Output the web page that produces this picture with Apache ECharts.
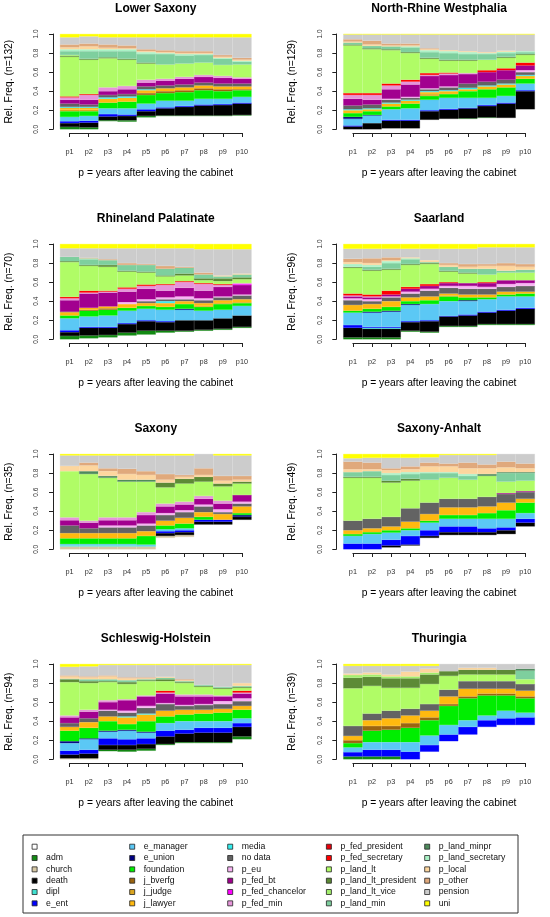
<!DOCTYPE html>
<html><head><meta charset="utf-8">
<script src="https://cdn.jsdelivr.net/npm/echarts@6/dist/echarts.min.js"></script>
<style>html,body{margin:0;padding:0;background:#fff}#c{width:550px;height:917px}</style>
</head><body><div id="c"></div>
<script>
const periods = ['p1','p2','p3','p4','p5','p6','p7','p8','p9','p10'];
const yTickLabels = ['0.0','0.2','0.4','0.6','0.8','1.0'];
const categoryNames = ['', 'adm', 'church', 'death', 'dipl', 'e_ent', 'e_manager', 'e_union', 'foundation',
  'j_bverfg', 'j_judge', 'j_lawyer', 'media', 'no data', 'p_eu', 'p_fed_bt', 'p_fed_chancelor', 'p_fed_min',
  'p_fed_president', 'p_fed_secretary', 'p_land_lt', 'p_land_lt_president', 'p_land_lt_vice', 'p_land_min',
  'p_land_minpr', 'p_land_secretary', 'p_local', 'p_other', 'pension', 'uni'];
const legendColumns = [
  ['', 'adm', 'church', 'death', 'dipl', 'e_ent'],
  ['e_manager', 'e_union', 'foundation', 'j_bverfg', 'j_judge', 'j_lawyer'],
  ['media', 'no data', 'p_eu', 'p_fed_bt', 'p_fed_chancelor', 'p_fed_min'],
  ['p_fed_president', 'p_fed_secretary', 'p_land_lt', 'p_land_lt_president', 'p_land_lt_vice', 'p_land_min'],
  ['p_land_minpr', 'p_land_secretary', 'p_local', 'p_other', 'pension', 'uni']
];
const panelTitles = ['Lower Saxony', 'North-Rhine Westphalia', 'Rhineland Palatinate', 'Saarland',
  'Saxony', 'Saxony-Anhalt', 'Schleswig-Holstein', 'Thuringia'];
const sampleSizes = [132, 129, 70, 96, 35, 49, 94, 39];

const lowerSaxony = {
  '': [0,0,0.085,0.08,0.125,0.14,0.14,0.14,0.14,0.145],
  adm: [0.025,0.02,0.01,0.015,0.015,0.005,0.005,0.005,0.005,0.005],
  death: [0.04,0.05,0.04,0.045,0.05,0.075,0.09,0.105,0.11,0.12],
  e_ent: [0.02,0.02,0.025,0.015,0.02,0.01,0.01,0.01,0.01,0.01],
  e_manager: [0.045,0.05,0.06,0.065,0.06,0.07,0.055,0.06,0.055,0.06],
  foundation: [0.06,0.05,0.06,0.07,0.09,0.08,0.09,0.09,0.08,0.07],
  j_bverfg: [0,0,0,0,0.02,0.02,0.02,0.02,0.02,0.01],
  j_judge: [0.015,0.015,0,0,0,0,0,0,0,0],
  j_lawyer: [0.02,0.02,0.04,0.04,0.03,0.03,0.03,0.03,0.03,0.03],
  media: [0.01,0.01,0.015,0.015,0.01,0,0,0,0,0],
  'no data': [0.035,0.025,0.025,0.025,0.03,0.03,0.03,0.03,0.03,0.03],
  p_fed_bt: [0.04,0.05,0.04,0.05,0.04,0.05,0.06,0.06,0.06,0.05],
  p_fed_min: [0.025,0.05,0.04,0.035,0.03,0.02,0.02,0.02,0.02,0.015],
  p_fed_secretary: [0.01,0.01,0,0,0,0,0,0,0,0],
  p_land_lt: [0.415,0.36,0.305,0.275,0.17,0.15,0.14,0.13,0.115,0.135],
  p_land_lt_president: [0.01,0.01,0.01,0.01,0.01,0,0,0,0,0],
  p_land_lt_vice: [0.01,0,0,0,0,0,0,0,0,0],
  p_land_min: [0.04,0.08,0.065,0.08,0.09,0.11,0.085,0.08,0.065,0.03],
  p_land_secretary: [0.02,0.02,0.02,0.02,0.02,0.01,0.015,0.01,0.01,0.01],
  p_local: [0.02,0.03,0.015,0.01,0.01,0.01,0.01,0.01,0.01,0.01],
  p_other: [0.03,0.03,0.035,0.03,0.02,0.02,0.02,0.02,0.02,0.02],
  pension: [0.075,0.075,0.075,0.085,0.125,0.135,0.145,0.145,0.185,0.215],
  uni: [0.035,0.025,0.035,0.035,0.035,0.035,0.035,0.035,0.035,0.035]
};
const northRhineWestphalia = {
  '': [0,0,0.01,0.01,0.10,0.11,0.11,0.12,0.12,0.21],
  adm: [0,0,0,0,0,0,0.005,0.005,0,0],
  death: [0.03,0.065,0.08,0.08,0.09,0.095,0.105,0.12,0.15,0.19],
  e_ent: [0.01,0,0.01,0.01,0.01,0.01,0.005,0.01,0.01,0.01],
  e_manager: [0.07,0.08,0.11,0.12,0.11,0.115,0.105,0.075,0.07,0.07],
  e_union: [0.02,0.005,0,0,0,0,0,0,0,0],
  foundation: [0.04,0.04,0.03,0.05,0.04,0.04,0.07,0.09,0.09,0.05],
  j_judge: [0,0,0,0,0.02,0,0,0,0,0],
  j_lawyer: [0.03,0.02,0.03,0.03,0.02,0.03,0.02,0.03,0.03,0.03],
  media: [0.01,0.01,0.01,0.01,0.01,0.01,0.015,0.01,0.01,0.01],
  'no data': [0.04,0.04,0.03,0.02,0.02,0.03,0.045,0.04,0.04,0.03],
  p_eu: [0,0,0.01,0.01,0.01,0.01,0,0,0,0.02],
  p_fed_bt: [0.07,0.05,0.10,0.13,0.13,0.12,0.10,0.10,0.10,0.05],
  p_fed_min: [0.04,0.05,0.04,0.03,0.01,0.015,0.01,0,0,0],
  p_fed_secretary: [0.02,0.02,0.02,0.02,0.02,0.01,0,0.02,0.02,0.03],
  p_land_lt: [0.50,0.46,0.35,0.28,0.15,0.125,0.13,0.11,0.11,0.08],
  p_land_lt_president: [0.01,0.01,0.01,0.01,0.01,0.01,0.01,0,0.01,0.01],
  p_land_min: [0.02,0.025,0.03,0.05,0.06,0.07,0.06,0.06,0.04,0.02],
  p_land_secretary: [0,0,0,0.01,0.02,0.02,0.02,0.01,0.015,0.01],
  p_local: [0.01,0.015,0.01,0.01,0.01,0.01,0.01,0.01,0.01,0],
  p_other: [0.025,0.04,0.02,0.02,0.01,0,0,0,0,0],
  pension: [0.05,0.065,0.095,0.095,0.145,0.165,0.175,0.185,0.17,0.175],
  uni: [0.005,0.005,0.005,0.005,0.005,0.005,0.005,0.005,0.005,0.005]
};
const rhinelandPalatinate = {
  '': [0,0.01,0.02,0.04,0.05,0.07,0.08,0.09,0.10,0.12],
  adm: [0.035,0.03,0.025,0.03,0.04,0.02,0.01,0.01,0.01,0.01],
  death: [0.04,0.08,0.075,0.09,0.10,0.09,0.11,0.10,0.11,0.12],
  e_ent: [0.02,0.01,0.01,0.01,0.01,0.01,0,0,0,0],
  e_manager: [0.125,0.11,0.12,0.13,0.12,0.12,0.11,0.10,0.09,0.10],
  e_union: [0,0,0,0,0,0,0.01,0,0,0],
  foundation: [0.03,0.06,0.06,0.03,0.03,0.03,0.05,0.04,0.06,0.03],
  j_bverfg: [0,0.01,0.015,0,0,0,0,0,0,0],
  j_judge: [0,0,0,0,0,0,0,0.01,0.01,0.01],
  j_lawyer: [0.035,0.02,0.02,0.04,0.03,0.04,0.03,0.03,0.03,0.03],
  media: [0,0,0,0,0,0.02,0,0,0,0],
  'no data': [0.005,0,0,0,0.02,0.02,0.02,0.03,0.03,0.04],
  p_eu: [0,0,0,0.02,0.02,0.02,0.03,0.02,0.01,0.01],
  p_fed_bt: [0.12,0.15,0.145,0.11,0.11,0.07,0.09,0.08,0.10,0.10],
  p_fed_chancelor: [0,0,0,0,0,0,0,0,0,0.01],
  p_fed_min: [0.02,0.01,0.01,0.03,0.03,0.06,0.06,0.07,0.02,0.01],
  p_fed_secretary: [0.015,0.02,0.01,0.015,0.015,0.01,0.01,0.01,0.01,0],
  p_land_lt: [0.365,0.26,0.25,0.165,0.125,0.08,0.06,0.03,0.03,0.04],
  p_land_lt_president: [0.01,0.01,0.02,0.01,0.01,0.01,0.02,0.02,0.03,0.02],
  p_land_min: [0.045,0.06,0.05,0.06,0.07,0.07,0.06,0.04,0.02,0.03],
  p_land_secretary: [0,0.01,0,0,0,0,0,0,0,0],
  p_local: [0,0,0,0,0,0,0,0,0.01,0.01],
  p_other: [0,0.005,0.01,0.02,0.01,0.03,0.01,0.02,0,0],
  pension: [0.09,0.10,0.115,0.155,0.165,0.185,0.195,0.245,0.275,0.255],
  uni: [0.045,0.045,0.045,0.045,0.045,0.045,0.045,0.055,0.055,0.055]
};
const saarland = {
  '': [0,0,0,0.08,0.07,0.13,0.13,0.15,0.15,0.15],
  adm: [0.02,0.02,0.02,0.01,0.01,0.01,0.01,0.01,0.01,0.01],
  death: [0.10,0.09,0.09,0.09,0.11,0.10,0.11,0.12,0.14,0.16],
  dipl: [0,0.01,0.01,0,0,0,0,0,0,0],
  e_ent: [0.03,0.01,0.01,0.01,0.01,0.005,0.01,0.01,0.01,0.01],
  e_manager: [0.13,0.15,0.16,0.17,0.17,0.155,0.14,0.13,0.14,0.12],
  e_union: [0,0.01,0.01,0.01,0,0,0.01,0,0,0],
  foundation: [0.02,0.03,0.04,0.03,0.04,0.05,0.03,0.02,0.02,0.03],
  j_judge: [0,0,0,0,0,0.01,0,0,0,0],
  j_lawyer: [0.06,0.05,0.06,0.04,0.04,0.02,0.03,0.03,0.03,0.02],
  'no data': [0.05,0.03,0.04,0.04,0.06,0.06,0.06,0.06,0.05,0.06],
  p_eu: [0.02,0.02,0.01,0.02,0.02,0.02,0.03,0.02,0.03,0.03],
  p_fed_bt: [0.02,0.02,0.02,0.03,0.03,0.03,0.03,0.04,0.04,0.03],
  p_fed_min: [0.01,0.01,0,0,0,0,0,0,0,0],
  p_fed_secretary: [0.02,0.02,0.04,0.02,0.02,0.01,0,0.01,0,0],
  p_land_lt: [0.27,0.25,0.22,0.23,0.21,0.11,0.10,0.08,0.08,0.08],
  p_land_lt_president: [0.01,0.01,0.01,0.01,0.01,0.01,0.01,0,0,0],
  p_land_min: [0,0.03,0.06,0.05,0.01,0.04,0.04,0.06,0.02,0.03],
  p_land_secretary: [0.03,0.02,0.02,0.01,0,0,0,0,0,0],
  p_local: [0.02,0.02,0.01,0.01,0.02,0.02,0.02,0.03,0.05,0.03],
  p_other: [0.035,0.05,0.03,0,0,0.02,0.03,0.02,0.03,0.03],
  pension: [0.105,0.10,0.09,0.09,0.12,0.15,0.16,0.175,0.165,0.175],
  uni: [0.05,0.05,0.05,0.05,0.05,0.05,0.05,0.035,0.035,0.035]
};
const saxony = {
  '': [0,0,0,0,0,0.12,0.13,0.26,0.26,0.31],
  church: [0.03,0.03,0.03,0.03,0.03,0.02,0.02,0,0,0],
  death: [0,0,0,0,0,0.03,0.03,0.03,0.03,0.03],
  dipl: [0.01,0.01,0.01,0.01,0.005,0,0,0,0,0],
  e_ent: [0,0,0,0,0,0.02,0.02,0.02,0.02,0],
  e_manager: [0.015,0.015,0.015,0.015,0.015,0.02,0.02,0,0,0],
  e_union: [0,0,0,0,0,0,0,0,0,0.02],
  foundation: [0.06,0.06,0.06,0.06,0.09,0.04,0.05,0.03,0,0.02],
  j_lawyer: [0.055,0.055,0.055,0.055,0.05,0.05,0.06,0.05,0.06,0.07],
  'no data': [0.08,0.05,0.06,0.06,0.06,0.06,0.06,0.06,0.02,0.03],
  p_eu: [0,0,0.02,0.02,0.02,0.02,0.02,0.02,0.03,0.02],
  p_fed_bt: [0.055,0.06,0.055,0.055,0.09,0.07,0.06,0.06,0.06,0.07],
  p_fed_min: [0.03,0.02,0.03,0.03,0.03,0.03,0.03,0.03,0.03,0],
  p_land_lt: [0.485,0.49,0.415,0.375,0.32,0.17,0.19,0.15,0.15,0.12],
  p_land_lt_president: [0,0,0,0,0,0.05,0.05,0.05,0.03,0.02],
  p_land_minpr: [0,0.03,0.02,0.02,0.02,0,0,0,0,0],
  p_local: [0.055,0.06,0.05,0.06,0.05,0.03,0.02,0.02,0.03,0.02],
  p_other: [0,0.03,0.03,0.055,0.04,0.06,0.02,0.07,0.05,0.04],
  pension: [0.11,0.075,0.135,0.14,0.165,0.195,0.205,0.15,0.215,0.215],
  uni: [0.015,0.015,0.015,0.015,0.015,0.015,0.015,0,0.015,0.015]
};
const saxonyAnhalt = {
  '': [0,0,0.02,0.04,0.12,0.15,0.15,0.15,0.16,0.24],
  death: [0,0,0.02,0.01,0.02,0.03,0.03,0.03,0.04,0.04],
  e_ent: [0.06,0.06,0.06,0.09,0.06,0.06,0.06,0.04,0.03,0.04],
  e_manager: [0.08,0.10,0.075,0.06,0.08,0.08,0.08,0.10,0.09,0.06],
  foundation: [0.02,0.02,0.025,0.02,0.02,0.04,0.04,0.06,0.09,0.11],
  j_lawyer: [0.04,0.04,0.04,0.07,0.07,0.08,0.08,0.07,0.08,0.04],
  'no data': [0.10,0.10,0.10,0.14,0.12,0.09,0.09,0.10,0.09,0.07],
  p_fed_bt: [0,0,0,0,0,0,0,0,0.01,0.01],
  p_land_lt: [0.45,0.43,0.36,0.29,0.24,0.22,0.20,0.22,0.12,0.11],
  p_land_lt_president: [0.01,0.01,0.02,0.02,0,0,0,0,0,0],
  p_land_min: [0.05,0.06,0.06,0.05,0.07,0.05,0.04,0,0.09,0.08],
  p_land_minpr: [0,0,0,0,0,0,0,0.02,0.01,0.01],
  p_land_secretary: [0,0,0.02,0.02,0.01,0.01,0.02,0,0,0],
  p_local: [0.03,0.02,0.03,0.03,0.06,0.06,0.06,0.06,0.05,0.04],
  p_other: [0.08,0.07,0.02,0.03,0.04,0.03,0.06,0.04,0.06,0.05],
  pension: [0.035,0.05,0.11,0.09,0.055,0.09,0.08,0.10,0.08,0.10],
  uni: [0.045,0.04,0.04,0.04,0.035,0.01,0.01,0.01,0,0]
};
const schleswigHolstein = {
  '': [0,0,0.085,0.08,0.09,0.15,0.17,0.17,0.17,0.21],
  adm: [0,0,0.015,0.02,0.02,0.01,0.01,0.01,0.01,0.03],
  church: [0.01,0.01,0,0,0,0,0,0,0,0],
  death: [0.04,0.05,0.05,0.05,0.05,0.08,0.09,0.10,0.10,0.10],
  e_ent: [0.04,0.04,0.07,0.06,0.06,0.06,0.04,0.05,0.05,0.04],
  e_manager: [0.08,0.11,0.07,0.09,0.06,0.08,0.09,0.07,0.07,0.05],
  e_union: [0.02,0.01,0.01,0.01,0.01,0,0,0,0,0],
  foundation: [0.11,0.11,0.10,0.06,0.11,0.07,0.07,0.08,0.09,0.09],
  j_lawyer: [0.04,0.06,0.05,0.07,0.07,0.06,0.05,0.04,0.04,0.04],
  media: [0,0,0,0.01,0.01,0,0,0,0,0],
  'no data': [0.04,0.04,0.06,0.04,0.06,0.07,0.04,0.05,0.05,0.05],
  p_eu: [0,0,0.01,0.02,0.02,0.01,0.01,0.01,0.03,0.03],
  p_fed_bt: [0.06,0.07,0.08,0.11,0.10,0.10,0.09,0.08,0.05,0.05],
  p_fed_min: [0.02,0.02,0.02,0.01,0.01,0.01,0.02,0.02,0.01,0.01],
  p_fed_secretary: [0,0,0,0,0,0.02,0,0,0,0.02],
  p_land_lt: [0.35,0.28,0.19,0.16,0.15,0.10,0.12,0.08,0.07,0.03],
  p_land_lt_president: [0.03,0.02,0.01,0.02,0.01,0.02,0.01,0.01,0.01,0.01],
  p_land_min: [0.005,0.02,0.02,0.02,0.01,0.015,0.01,0.01,0.01,0.01],
  p_local: [0.025,0.02,0.03,0.02,0.01,0.01,0.01,0,0,0.03],
  p_other: [0.01,0.01,0.01,0.01,0.01,0,0.01,0,0,0],
  pension: [0.09,0.105,0.11,0.13,0.13,0.125,0.15,0.21,0.23,0.19],
  uni: [0.03,0.025,0.01,0.01,0.01,0.01,0.01,0.01,0.01,0.01]
};
const thuringia = {
  '': [0,0,0,0,0.08,0.19,0.26,0.34,0.36,0.36],
  adm: [0.03,0.03,0.03,0,0,0,0,0,0,0],
  e_ent: [0.045,0.07,0.07,0.08,0.07,0.07,0.08,0.07,0.07,0.08],
  e_manager: [0.05,0.08,0.08,0.10,0.10,0.10,0.07,0.05,0.08,0.05],
  foundation: [0.045,0.12,0.13,0.15,0.16,0.20,0.23,0.21,0.16,0.15],
  j_bverfg: [0.03,0.05,0.04,0.05,0.03,0.02,0.02,0.02,0.02,0.02],
  j_lawyer: [0.045,0.06,0.08,0.08,0.07,0.08,0.08,0.05,0.05,0.06],
  'no data': [0.105,0.07,0.08,0.07,0.07,0.07,0.08,0.08,0.08,0.07],
  p_land_lt: [0.395,0.29,0.24,0.22,0.21,0.145,0.07,0.07,0.07,0.05],
  p_land_lt_president: [0.11,0.095,0.10,0.10,0.10,0.05,0.05,0.05,0.05,0],
  p_land_lt_vice: [0.03,0.025,0.02,0.02,0.02,0,0,0,0,0],
  p_land_min: [0,0,0,0,0,0,0,0,0,0.09],
  p_land_minpr: [0,0,0,0,0,0,0,0,0,0.02],
  p_local: [0.015,0.02,0.02,0.05,0.04,0,0.02,0.02,0,0],
  pension: [0.08,0.07,0.09,0.06,0.03,0.075,0.04,0.04,0.06,0.05],
  uni: [0.02,0.02,0.02,0.02,0.02,0,0,0,0,0]
};
const panelValues = [lowerSaxony, northRhineWestphalia, rhinelandPalatinate, saarland,
  saxony, saxonyAnhalt, schleswigHolstein, thuringia];

const categoryColors = {
  '': '#ffffff', adm: '#138a13', church: '#d6c8a4', death: '#000000', dipl: '#40e0d0',
  e_ent: '#0000ff', e_manager: '#5bc8f5', e_union: '#000080', foundation: '#00ee00',
  j_bverfg: '#9b6410', j_judge: '#daa520', j_lawyer: '#ffb90f', media: '#33eeee',
  'no data': '#636363', p_eu: '#f8b4f4', p_fed_bt: '#a2008f', p_fed_chancelor: '#ff00ff',
  p_fed_min: '#e695da', p_fed_president: '#e8000b', p_fed_secretary: '#ff0000',
  p_land_lt: '#b0fc66', p_land_lt_president: '#5d8a36', p_land_lt_vice: '#a3ee6c',
  p_land_min: '#7ecf9e', p_land_minpr: '#4e8a5c', p_land_secretary: '#aaf2c6',
  p_local: '#fdd69e', p_other: '#e0a97c', pension: '#cccccc', uni: '#ffff00'
};

const FONT = 'Liberation Sans, Arial, Helvetica, sans-serif';
const displayName = c => (c === '' ? ' ' : c);

const chart = echarts.init(document.getElementById('c'), null, { renderer: 'canvas' });
const grids = [], xAxes = [], yAxes = [], series = [], titles = [];
const W = 191.5, H = 95.3;

panelValues.forEach((panel, i) => {
  const col = i % 2, row = Math.floor(i / 2);
  const left = col ? 343.3 : 60;
  const top = 34 + row * 210;
  const step = W / periods.length;
  grids.push({ left: left, top: top, width: W, height: H });
  grids.push({ left: left + step / 2, top: top + H + 2.7, width: step * (periods.length - 1), height: 1 });
  titles.push({
    text: panelTitles[i], left: left + W / 2, top: 3 + row * 210, textAlign: 'center', padding: 0,
    textStyle: { fontSize: 12, fontWeight: 'bold', fontFamily: FONT, color: '#000' }
  });
  xAxes.push({ type: 'category', gridIndex: 2 * i, data: periods, boundaryGap: true, show: false });
  xAxes.push({
    type: 'value', gridIndex: 2 * i + 1, min: 1, max: periods.length, interval: 1,
    axisLine: { show: true, lineStyle: { color: '#222', width: 1 } },
    axisTick: { show: true, length: 4, lineStyle: { color: '#222', width: 1 } },
    axisLabel: { show: true, fontSize: 7.3, color: '#333', margin: 15, fontFamily: FONT,
      formatter: v => periods[Math.round(v) - 1] || '' },
    splitLine: { show: false },
    name: 'p = years after leaving the cabinet', nameLocation: 'middle', nameGap: 35,
    nameMoveOverlap: false,
    nameTextStyle: { fontSize: 10.3, color: '#000', fontFamily: FONT }
  });
  yAxes.push({
    type: 'value', gridIndex: 2 * i, min: 0, max: 1, interval: 0.2, offset: 7,
    axisLine: { show: true, lineStyle: { color: '#222', width: 1 } },
    axisTick: { show: true, length: 4, lineStyle: { color: '#222', width: 1 } },
    axisLabel: { show: true, rotate: 90, fontSize: 6.5, color: '#333', margin: 13, fontFamily: FONT,
      formatter: v => yTickLabels[Math.round(v * 5)] },
    splitLine: { show: false },
    name: 'Rel. Freq. (n=' + sampleSizes[i] + ')', nameLocation: 'middle', nameGap: 39,
    nameMoveOverlap: false,
    nameTextStyle: { fontSize: 10.3, color: '#000', fontFamily: FONT }
  });
  yAxes.push({ type: 'value', gridIndex: 2 * i + 1, show: false, min: 0, max: 1 });
  categoryNames.forEach(cat => {
    const vals = panel[cat] || [];
    const color = categoryColors[cat];
    series.push({
      type: 'bar', name: displayName(cat), stack: 'panel' + i,
      xAxisIndex: 2 * i, yAxisIndex: 2 * i,
      barCategoryGap: '0%', barGap: '0%',
      data: vals.map(v => (v > 0 ? v : '-')),
      itemStyle: { color: color, borderColor: color, borderWidth: 0.3 },
      silent: true, animation: false, emphasis: { disabled: true }
    });
  });
});

const legendLefts = [31.7, 129.3, 227.3, 326, 424.3];
const legends = legendColumns.map((names, k) => ({
  orient: 'vertical', left: legendLefts[k], top: 842.2, padding: 0,
  itemWidth: 5, itemHeight: 5, itemGap: 2.33, icon: 'rect', selectedMode: false,
  data: names.map(displayName),
  itemStyle: { borderColor: '#222', borderWidth: 0.8 },
  textStyle: { fontSize: 8.7, color: '#111', fontFamily: FONT, lineHeight: 9, padding: [0, 0, 0, 4] }
}));

chart.setOption({
  animation: false,
  backgroundColor: '#ffffff',
  title: titles,
  grid: grids,
  xAxis: xAxes,
  yAxis: yAxes,
  legend: legends,
  tooltip: { show: false },
  graphic: [{
    type: 'rect', silent: true,
    shape: { x: 23, y: 835, width: 495, height: 78 },
    style: { fill: 'none', stroke: '#333', lineWidth: 1 }
  }],
  series: series
});
</script>
</body></html>
